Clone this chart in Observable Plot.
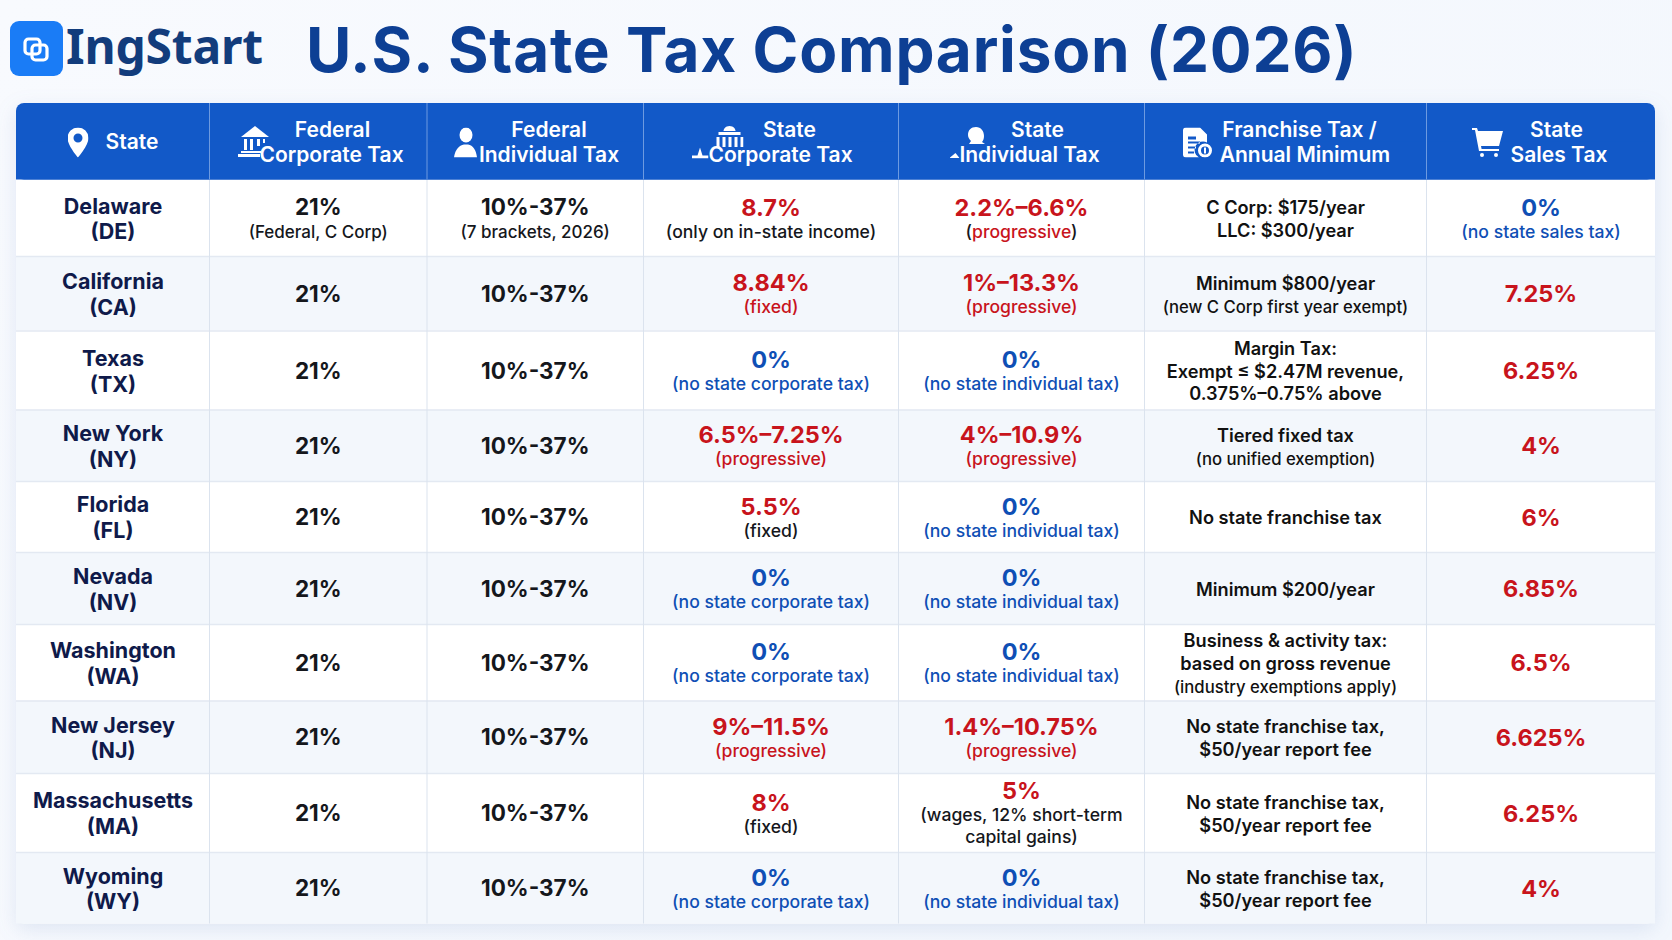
<!DOCTYPE html>
<html><head><meta charset="utf-8">
<script src="https://cdn.jsdelivr.net/npm/d3@7"></script>
<script src="https://cdn.jsdelivr.net/npm/@observablehq/plot@0.6"></script>
<style>
html,body{margin:0;padding:0;width:1672px;height:940px;overflow:hidden;background:linear-gradient(120deg,#f8fafe,#f3f7fd);font-family:Inter,sans-serif}
#head{position:relative;height:90px;width:1672px}
#logo{position:absolute;left:10px;top:21px;width:53px;height:55px}
#brand{position:absolute;left:66px;top:12px;font:700 48px/68px "Noto Sans",sans-serif;color:#123c7c;margin:0;letter-spacing:-.2px}
h1{position:absolute;left:306px;top:13px;margin:0;font:700 62px/74px Inter,sans-serif;color:#0d3f94;white-space:nowrap;letter-spacing:.78px}
#chart svg{display:block;background:transparent;overflow:visible}
</style></head><body>
<div id="head">
<svg id="logo" viewBox="0 0 53 55"><rect width="53" height="55" rx="9" fill="#1a7cf6"/><g fill="none" stroke="#fff" stroke-width="3.2"><rect x="15" y="18" width="15" height="15" rx="3.5"/><rect x="22" y="24" width="15" height="15" rx="3.5"/></g></svg>
<div id="brand">IngStart</div>
<h1>U.S. State Tax Comparison (2026)</h1>
</div>
<div id="chart"></div>
<script>
const stateNames = ["Delaware","California","Texas","New York","Florida","Nevada","Washington","New Jersey","Massachusetts","Wyoming"];
const stateCodes = ["(DE)","(CA)","(TX)","(NY)","(FL)","(NV)","(WA)","(NJ)","(MA)","(WY)"];
const federalCorporate = ["21%","21%","21%","21%","21%","21%","21%","21%","21%","21%"];
const federalCorporateNote = ["(Federal, C Corp)","","","","","","","","",""];
const federalIndividual = ["10%-37%","10%-37%","10%-37%","10%-37%","10%-37%","10%-37%","10%-37%","10%-37%","10%-37%","10%-37%"];
const federalIndividualNote = ["(7 brackets, 2026)","","","","","","","","",""];
const stateCorporate = ["8.7%","8.84%","0%","6.5%–7.25%","5.5%","0%","0%","9%–11.5%","8%","0%"];
const stateCorporateNote = ["(only on in-state income)","(fixed)","(no state corporate tax)","(progressive)","(fixed)","(no state corporate tax)","(no state corporate tax)","(progressive)","(fixed)","(no state corporate tax)"];
const stateCorporateNoteTone = ["plain","rate","none","rate","plain","none","none","rate","plain","none"];
const stateIndividual = ["2.2%–6.6%","1%–13.3%","0%","4%–10.9%","0%","0%","0%","1.4%–10.75%","5%","0%"];
const stateIndividualNote = ["(progressive)","(progressive)","(no state individual tax)","(progressive)","(no state individual tax)","(no state individual tax)","(no state individual tax)","(progressive)","(wages, 12% short-term\ncapital gains)","(no state individual tax)"];
const stateIndividualNoteTone = ["rate","rate","none","rate","none","none","none","rate","plain","none"];
const franchise = ["C Corp: $175/year\nLLC: $300/year","Minimum $800/year\n(new C Corp first year exempt)","Margin Tax:\nExempt ≤ $2.47M revenue,\n0.375%–0.75% above","Tiered fixed tax\n(no unified exemption)","No state franchise tax","Minimum $200/year","Business & activity tax:\nbased on gross revenue\n(industry exemptions apply)","No state franchise tax,\n$50/year report fee","No state franchise tax,\n$50/year report fee","No state franchise tax,\n$50/year report fee"];
const salesTax = ["0%","7.25%","6.25%","4%","6%","6.85%","6.5%","6.625%","6.25%","4%"];
const salesTaxNote = ["(no state sales tax)","","","","","","","","",""];
const headerLabels = [["State"],["Federal","Corporate Tax"],["Federal","Individual Tax"],["State","Corporate Tax"],["State","Individual Tax"],["Franchise Tax /","Annual Minimum"],["State","Sales Tax"]];

// layout: pixel edges used as the range of the piecewise position scales
const colEdges = [16,209,426.5,643,898,1144,1426,1655];
const rowEdges = [103,179.5,256,330.5,409.5,481,552,624,700.5,773,852,923.5].map(v=>v-90);
const colCenter = i => (colEdges[i]+colEdges[i+1])/2;
const headerCenters = [[131.5],[332,331],[548.5,548.5],[789,780],[1037,1029],[1299,1304.5],[1556,1558.5]];

const svgUri = (w,h,inner)=>"data:image/svg+xml,"+encodeURIComponent(`<svg xmlns="http://www.w3.org/2000/svg" viewBox="0 0 ${w} ${h}" width="${w}" height="${h}"><g fill="#fff">${inner}</g></svg>`);
const iconSpecs = [
 {col:0,px:77.5,py:142,w:21,h:30,src:svgUri(21,30,`<path fill-rule="evenodd" d="M10.5 0A10.5 10.5 0 0 0 0 10.5C0 18 10.5 30 10.5 30S21 18 21 10.5A10.5 10.5 0 0 0 10.5 0zm0 6a4.5 4.5 0 1 1 0 9 4.5 4.5 0 0 1 0-9z"/>`)},
 {col:1,px:254,py:141,w:33,h:31,src:svgUri(33,31,`<path d="M17 0L31 11H3z"/><rect x="6" y="13" width="3" height="11"/><rect x="12" y="13" width="3" height="11"/><rect x="19" y="13" width="3" height="7"/><rect x="25" y="13" width="2" height="4"/><rect x="3" y="25" width="20" height="2"/><rect x="0" y="28" width="22" height="3"/>`)},
 {col:2,px:465,py:142,w:23,h:30,src:svgUri(23,30,`<ellipse cx="12" cy="7.5" rx="6.5" ry="7.5"/><path d="M0 30C1 22 5 18 10 17h4c5 1 8 5 9 13z"/>`)},
 {col:3,px:729,py:136,w:28,h:21,src:svgUri(28,21,`<path d="M14 0c4 0 6 3 6 5H8c0-2 2-5 6-5z"/><rect x="3" y="6" width="22" height="3"/><rect x="1" y="11" width="3" height="10"/><rect x="7" y="11" width="3" height="10"/><rect x="13" y="11" width="3" height="10"/><rect x="19" y="11" width="3" height="10"/><rect x="25" y="11" width="3" height="10"/>`)},
 {col:3,px:699.5,py:152.5,w:17,h:11,src:svgUri(17,11,`<path d="M8.5 0L11 8h6v3H0V8h6z"/>`)},
 {col:4,px:976,py:135,w:17,h:17,src:svgUri(17,17,`<path d="M8 0c5 0 8 4 8 9 0 3-1 5-2 6l3 2H1l2-3C1 12 0 10 0 8 0 3 3 0 8 0z"/>`)},
 {col:4,px:954,py:155,w:10,h:5,src:svgUri(10,5,`<path d="M6 0L10 5H0z"/>`)},
 {col:5,px:1197,py:142,w:29,h:30,src:svgUri(29,30,`<path fill-rule="evenodd" d="M3 0h14l7 7v8a8 8 0 0 0-8 15H3a3 3 0 0 1-3-3V3a3 3 0 0 1 3-3zM5 9h8v3H5zM5 14h12v2H5zM5 19h8v2H5zM5 24h6v2H5z"/><path fill-rule="evenodd" d="M22 16a7 7 0 1 1 0 14 7 7 0 0 1 0-14zm0 3a4 4 0 1 0 0 8 4 4 0 0 0 0-8z"/><rect x="21" y="20" width="2" height="6"/>`)},
 {col:6,px:1487,py:142,w:31,h:29,src:svgUri(31,29,`<path d="M0 0h5l1 3h25l-4 15H9l.6 3H27v2H7L3 2H0z"/><circle cx="10" cy="27" r="2"/><circle cx="24" cy="27" r="2"/>`)}
];

const taxTone = v => v.startsWith("0%") ? "none" : "rate";
const rows = stateNames.map((_, r) => r);
const cols = [
 {col:1, main:federalCorporate, note:federalCorporateNote, tone:()=>"plain", noteTone:()=>"plain"},
 {col:2, main:federalIndividual, note:federalIndividualNote, tone:()=>"plain", noteTone:()=>"plain"},
 {col:3, main:stateCorporate, note:stateCorporateNote, tone:taxTone, noteTone:(r)=>stateCorporateNoteTone[r]},
 {col:4, main:stateIndividual, note:stateIndividualNote, tone:taxTone, noteTone:(r)=>stateIndividualNoteTone[r]},
 {col:6, main:salesTax, note:salesTaxNote, tone:taxTone, noteTone:()=>"none"}
];
const cells = cols.flatMap(c => rows.map(r => ({x:c.col+.5, y:r+1.5, main:c.main[r], note:c.note[r], tone:c.tone(c.main[r]), noteTone:c.noteTone(r), lines:c.note[r].split("\n").length})));
const single = cells.filter(d => !d.note);
const double = cells.filter(d => d.note && d.lines===1);
const triple = cells.filter(d => d.lines===2);
const isMixed = d => d.x===4.5 && d.y===1.5;
const isFederal = d => d.x<3;

const font = {fontFamily:"Inter, sans-serif"};
const frame = rows.map(r => ({r, x1:0, x2:7, y1:r+1, y2:r+2}));

const marks = [
  // card + shadow
  Plot.rect([0],{x1:0,x2:7,y1:0,y2:11,fill:"#fff",rx:8,imageFilter:"drop-shadow(0 6px 10px rgba(60,100,170,0.13))"}),
  Plot.rect(frame.filter(d=>d.r%2===1),{x1:"x1",x2:"x2",y1:"y1",y2:"y2",fill:"#f3f7fc"}),
  Plot.ruleY(d3.range(2,11),{y:d=>d,x1:0,x2:7,stroke:"#e3e9f2",strokeWidth:1.5}),
  Plot.ruleX(d3.range(1,7),{x:d=>d,y1:1,y2:11,stroke:"#dbe3ee",strokeWidth:1}),
  // header
  Plot.rect([0],{x1:0,x2:7,y1:0,y2:1,fill:"#1259c8",rx:8}),
  Plot.rect([0],{x1:0,x2:7,y1:0.5,y2:1,fill:"#1259c8"}),
  Plot.ruleX(d3.range(1,7),{x:d=>d,y1:0,y2:1,stroke:"#6d9ae0",strokeWidth:1}),
  ...iconSpecs.map(s => Plot.image([s],{x:s.col+.5,y:.5,dx:s.px-colCenter(s.col),dy:s.py-141.25,width:s.w,height:s.h,src:"src"})),
  ...headerLabels.flatMap((lines,c) => lines.map((t,i) => Plot.text([t],{x:c+.5,y:.5,dx:headerCenters[c][i]-colCenter(c),dy:lines.length===1?1:(i===0?-11:14),text:d=>d,fill:"#fff",fontSize:21,fontWeight:600,...font}))),
  // state names
  Plot.text(rows,{x:.5,y:r=>r+1.5,text:r=>stateNames[r]+"\n"+stateCodes[r],lineHeight:1.2,fill:"#0f1a4a",fontSize:21.5,fontWeight:700,...font}),
  // franchise
  Plot.text(rows,{x:5.5,y:r=>r+1.5,text:r=>franchise[r],lineHeight:1.24,fill:"#111",fontSize:18.2,fontWeight:600,ariaLabel:()=>"franchise",...font}),
  // main values
  Plot.text(single.filter(isFederal),{x:"x",y:"y",text:"main",fill:"tone",dy:1,fontSize:22.5,fontWeight:650,...font}),
  Plot.text(single.filter(d=>!isFederal(d)),{x:"x",y:"y",text:"main",fill:"tone",dy:1,fontSize:23.5,fontWeight:700,...font}),
  Plot.text(double.filter(isFederal),{x:"x",y:"y",text:"main",fill:"tone",dy:-10,fontSize:22.5,fontWeight:650,...font}),
  Plot.text(double.filter(d=>!isFederal(d)),{x:"x",y:"y",text:"main",fill:"tone",dy:-10,fontSize:23.5,fontWeight:700,...font}),
  Plot.text(triple,{x:"x",y:"y",text:"main",fill:"tone",dy:-21.5,fontSize:23.5,fontWeight:700,...font}),
  // notes
  Plot.text(double.filter(isFederal),{x:"x",y:"y",text:"note",fill:"noteTone",dy:14,fontSize:17,fontWeight:500,...font}),
  Plot.text(double.filter(d=>!isFederal(d)&&!isMixed(d)),{x:"x",y:"y",text:"note",fill:"noteTone",dy:14,fontSize:17.6,fontWeight:500,...font}),
  Plot.text(double.filter(isMixed),{x:"x",y:"y",text:"note",fill:"#c8141c",dy:14,fontSize:17.6,fontWeight:500,ariaLabel:()=>"mixed note",...font}),
  Plot.text(triple,{x:"x",y:"y",text:"note",fill:"noteTone",lineAnchor:"top",dy:-7,lineHeight:1.22,fontSize:17.6,fontWeight:500,...font})
];

const chart = Plot.plot({
  width:1672, height:850, margin:0,
  style:{background:"transparent"},
  x:{type:"linear", axis:null, domain:d3.range(8), range:colEdges},
  y:{type:"linear", axis:null, domain:d3.range(12), range:rowEdges},
  color:{type:"ordinal", domain:["rate","none","plain"], range:["#c8141c","#0f4fb5","#15171c"]},
  marks
});
const mixed = chart.querySelector('text[aria-label="mixed note"]');
if (mixed) {
  mixed.textContent = "";
  const ns = "http://www.w3.org/2000/svg";
  ["(","progressive",")"].forEach((t,i)=>{const s=document.createElementNS(ns,"tspan");s.textContent=t;if(i!==1)s.setAttribute("fill","#15171c");mixed.appendChild(s);});
}
chart.querySelectorAll('text[aria-label="franchise"] tspan').forEach(s=>{
  if (s.textContent.startsWith("(")) { s.setAttribute("font-size","16.7"); s.setAttribute("font-weight","500"); s.setAttribute("dy","1.38em"); }
});
document.getElementById("chart").appendChild(chart);
</script>
</body></html>
